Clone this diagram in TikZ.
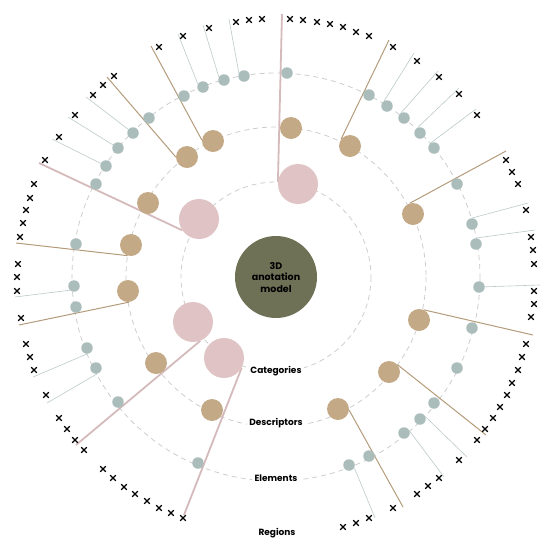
\documentclass[tikz,border=0pt]{standalone}
\usepackage{fontspec}
\setmainfont{Poppins}
\usetikzlibrary{shapes.misc,backgrounds}

\definecolor{modelgreen}{RGB}{110,113,86}
\definecolor{catpink}{RGB}{224,196,197}
\definecolor{desctan}{RGB}{196,169,134}
\definecolor{elemgray}{RGB}{170,189,187}
\definecolor{ringgray}{RGB}{205,205,205}

\begin{document}
\begin{tikzpicture}[
  x=1pt, y=-1pt,
  ring/.style={draw=ringgray, line width=0.8pt, dash pattern=on 5pt off 4pt},
  model/.style={circle, fill=modelgreen, minimum size=82pt, inner sep=0pt, align=center, font=\bfseries\fontsize{9.5}{11.5}\selectfont},
  cat/.style={circle, fill=catpink, minimum size=40pt, inner sep=0pt},
  desc/.style={circle, fill=desctan, minimum size=22pt, inner sep=0pt},
  elem/.style={circle, fill=elemgray, minimum size=11.5pt, inner sep=0pt},
  reg/.style={cross out, draw=black, line width=1.1pt, minimum size=4.5pt, inner sep=0pt},
  catline/.style={draw=catpink!95!black, line width=1.8pt},
  descline/.style={draw=desctan!92!black, line width=1pt},
  elemline/.style={draw=elemgray!80, line width=0.6pt},
  lbl/.style={fill=white, inner sep=2.5pt, font=\bfseries\fontsize{9}{10}\selectfont},
]
\useasboundingbox (0,0) rectangle (550,550);
\coordinate (o) at (276,277);

% regions
\foreach \x/\y [count=\i] in {262/19, 249/20, 236/22, 209/28, 183/36, 159/47, 114/76, 103/85, 93/95, 75/115,
  59/137, 45/160, 34/184, 30/198, 26/210, 23/223, 20/237, 18/264, 17/277,
  290/19, 303/20, 317/22, 330/24, 343/27, 356/32, 369/36, 393/47, 417/61, 439/77,
  459/94, 477/115, 506/160, 512/172, 518/184, 526/210, 531/237, 533/250, 534/264,
  17/291, 21/318, 26/344, 30/357, 34/370, 46/395, 59/418, 67/429, 75/440, 84/450,
  103/469, 113/478, 124/487, 135/494, 147/501, 159/508, 171/513, 183/518,
  534/291, 534/304, 531/317, 526/344, 522/357, 518/370, 512/383, 507/395, 500/407, 493/418,
  485/429, 477/440, 459/460, 439/478, 428/486, 417/494, 393/508, 369/518, 356/523, 343/527}
  \node[reg] (reg\i) at (\x,\y) {};

% elements
\foreach \x/\y [count=\i] in {244/76, 224/80, 203/87, 184/96, 149/118, 133/133, 118/148, 106/166, 96/184, 76/244,
  74/286, 76/307, 87/348, 96/368, 118/402, 198/463, 349/465, 369/456, 404/433, 420/419,
  434/403, 457/368, 472/328, 479/287, 476/244, 472/224, 457/184, 434/148, 420/133, 404/118,
  387/106, 369/95, 287/73}
  \node[elem] (el\i) at (\x,\y) {};

% descriptors
\foreach \x/\y [count=\i] in {213/141, 187/157, 148/203, 131/245, 128/291, 156/363, 212/410,
  338/409, 389/372, 419/320, 413/214, 350/146, 291/128}
  \node[desc] (desc\i) at (\x,\y) {};

% categories
\foreach \x/\y [count=\i] in {298/184, 199/219, 193/322, 224/358}
  \node[cat] (cat\i) at (\x,\y) {};

\node[model] (model) at (o) {3D\\anotation\\model};

\begin{pgfonlayer}{background}
% dashed rings
\draw[ring] (o) circle[radius=95];
\draw[ring] (o) circle[radius=150];
\draw[ring] (o) circle[radius=204];
% links out to the regions
\foreach \s/\x/\y [count=\i] in {el1.150/229/19, el2.150/203/25, el3.150/178/34, el6/86/97, el7/68/117,
  el8/52/139, el11.225/15/297, el13.270/33/377, el14.280/47/403, el17.333/375/518,
  el19.18/444/477, el20.22/467/457, el24/540/285, el25.90/535/230, el26.90/528/203,
  el28.127/476/109, el29.112/459/88, el30.121/438/71, el31.117/414/53}
  {\coordinate (eend\i) at (\x,\y);
   \draw[elemline] (\s) -- (eend\i);}
\foreach \s/\x/\y [count=\i] in {desc1.175/151/46, desc2.180/107/77, desc4.252/16/243, desc5.275/19/325,
  desc8.354/403/507, desc9.41/486/435, desc10.66/533/335, desc11.107/506/151, desc12.143/389/40}
  {\coordinate (dend\i) at (\x,\y);
   \draw[descline] (\s) -- (dend\i);}
\foreach \s/\x/\y [count=\i] in {cat1.174/282/14, cat2.214/39/163, cat3.291/76/445, cat4.331/184/515}
  {\coordinate (cend\i) at (\x,\y);
   \draw[catline] (\s) -- (cend\i);}
\end{pgfonlayer}

% ring labels
\node[lbl] (lcat) at (276,371) {Categories};
\node[lbl] (ldesc) at (276,423) {Descriptors};
\node[lbl] (lelem) at (276,478) {Elements};
\node[lbl] (lreg) at (277,533) {Regions};
\end{tikzpicture}
\end{document}
